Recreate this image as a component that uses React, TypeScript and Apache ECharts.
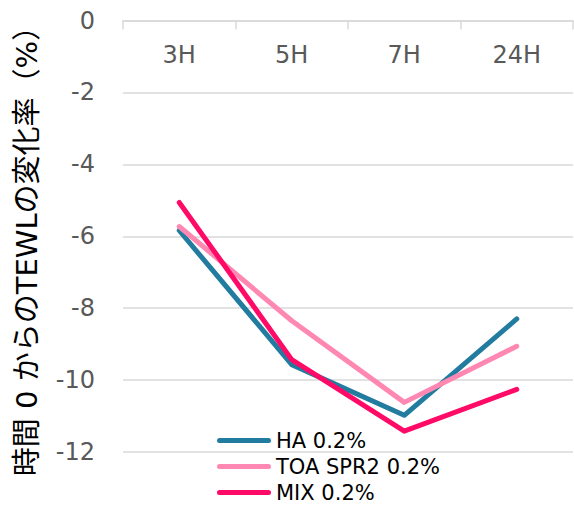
import React, { useEffect, useRef } from "react";
import * as echarts from "echarts";

const categories = ["3H", "5H", "7H", "24H"];
const seriesNames = ["HA 0.2%", "TOA SPR2 0.2%", "MIX 0.2%"];
const haValues = [-5.84, -9.57, -10.98, -8.3];
const toaValues = [-5.73, -8.35, -10.62, -9.06];
const mixValues = [-5.06, -9.43, -11.42, -10.26];
const colors = ["#217CA0", "#FF88B2", "#FF0A66"];
const yTitle = "時間 0 からのTEWLの変化率（%）";

export default function App() {
  const ref = useRef<HTMLDivElement>(null);
  useEffect(() => {
    if (!ref.current) return;
    const chart = echarts.init(ref.current, undefined, { renderer: "svg" });
    const font = "'DejaVu Sans', Verdana, sans-serif";
    const mk = (name: string, data: number[], color: string) => ({
      name,
      type: "line",
      data,
      symbol: "none",
      smooth: false,
      lineStyle: { color, width: 5, cap: "round", join: "round" },
      itemStyle: { color },
    });
    chart.setOption({
      animation: false,
      backgroundColor: "#ffffff",
      grid: { left: 123, right: 1, top: 20.5, bottom: 54, containLabel: false },
      legend: {
        orient: "vertical",
        left: 217,
        top: 430,
        padding: 0,
        itemWidth: 54,
        itemHeight: 5,
        itemGap: 5,
        icon: "path://M2.5,0 H51.5 A2.5,2.5 0 0 1 51.5,5 H2.5 A2.5,2.5 0 0 1 2.5,0 Z",
        data: seriesNames,
        textStyle: { fontFamily: font, fontSize: 21, color: "#000000" },
      },
      xAxis: {
        type: "category",
        data: categories,
        position: "top",
        boundaryGap: true,
        axisLine: { show: true, lineStyle: { color: "#d9d9d9", width: 1.5 } },
        axisTick: { show: true, inside: true, length: 9, lineStyle: { color: "#d9d9d9", width: 1.5 } },
        axisLabel: {
          inside: true,
          margin: 22,
          fontFamily: font,
          fontSize: 24,
          color: "#595959",
        },
        splitLine: { show: false },
      },
      yAxis: {
        type: "value",
        min: -12,
        max: 0,
        interval: 2,
        axisLine: { show: false },
        axisTick: { show: false },
        axisLabel: { margin: 28, fontFamily: font, fontSize: 24, color: "#595959" },
        splitLine: { show: true, lineStyle: { color: "#d9d9d9", width: 1.5 } },
      },
      graphic: [
        {
          type: "text",
          x: 27,
          y: 244,
          rotation: Math.PI / 2,
          style: {
            text: yTitle,
            fontFamily: "'DejaVu Sans', 'Noto Sans CJK JP', sans-serif",
            fontSize: 29,
            fill: "#000000",
            align: "center",
            verticalAlign: "middle",
          },
        },
      ],
      series: [
        mk(seriesNames[0], haValues, colors[0]),
        mk(seriesNames[1], toaValues, colors[1]),
        mk(seriesNames[2], mixValues, colors[2]),
      ],
    });
    return () => chart.dispose();
  }, []);
  return (
    <div
      ref={ref}
      style={{ position: "fixed", left: 0, top: 0, width: 574, height: 506 }}
    />
  );
}
